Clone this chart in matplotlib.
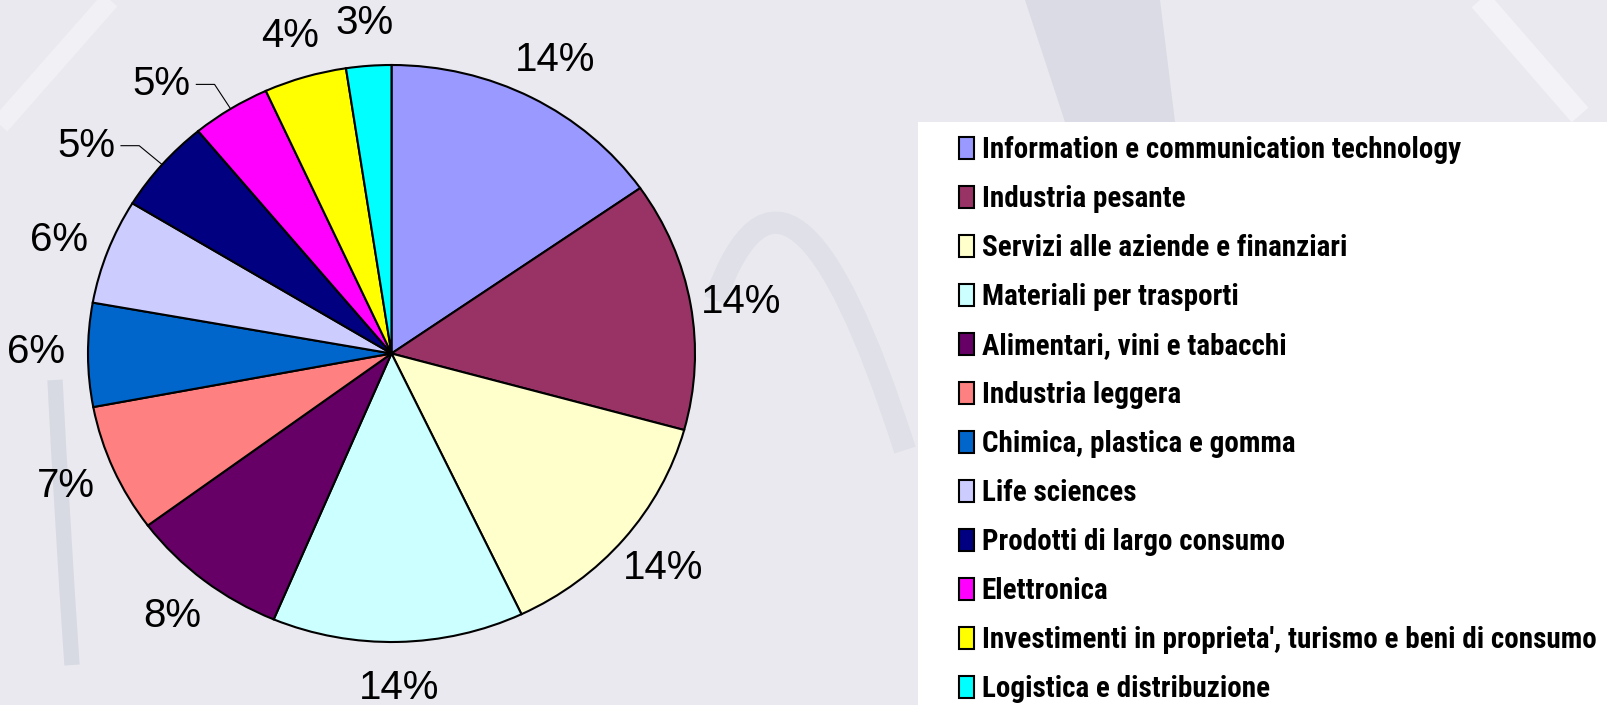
import numpy as np
import matplotlib.pyplot as plt
from matplotlib.patches import Rectangle, PathPatch, Polygon
from matplotlib.path import Path

sectors = ["Information e communication technology", "Industria pesante",
           "Servizi alle aziende e finanziari", "Materiali per trasporti",
           "Alimentari, vini e tabacchi", "Industria leggera",
           "Chimica, plastica e gomma", "Life sciences",
           "Prodotti di largo consumo", "Elettronica",
           "Investimenti in proprieta', turismo e beni di consumo",
           "Logistica e distribuzione"]
shares = [15.3, 14.0, 13.7, 13.4, 8.5, 7.2, 5.8, 5.9, 5.3, 4.2, 4.4, 2.4]
pct_labels = ["14%", "14%", "14%", "14%", "8%", "7%", "6%", "6%", "5%", "5%", "4%", "3%"]
colors = ["#9999FF", "#993366", "#FFFFCC", "#CCFFFF", "#660066", "#FF8080",
          "#0066CC", "#CCCCFF", "#000080", "#FF00FF", "#FFFF00", "#00FFFF"]
leader = [8, 9]

W, H = 1607, 705
fig = plt.figure(figsize=(W/100, H/100), dpi=100)
fig.patch.set_facecolor("#E9E9EF")

# faint watermark strokes of the slide background (pixel coords)
bg = fig.add_axes([0, 0, 1, 1])
bg.set_xlim(0, W)
bg.set_ylim(H, 0)
bg.axis("off")
bg.add_patch(PathPatch(Path([(715, 300), (790, 90), (905, 450)],
                            [Path.MOVETO, Path.CURVE3, Path.CURVE3]),
                       fill=False, edgecolor="#DFE0E8", lw=16))
bg.add_patch(PathPatch(Path([(55, 380), (62, 520), (72, 665)],
                            [Path.MOVETO, Path.CURVE3, Path.CURVE3]),
                       fill=False, edgecolor="#D7DAE2", lw=11))
bg.add_patch(Polygon([(1025, 0), (1160, 0), (1175, 122), (1065, 122)],
                     closed=True, facecolor="#DADBE4", edgecolor="none"))
bg.plot([0, 110], [125, 0], color="#F1F1F5", lw=14, solid_capstyle="butt")
bg.plot([1480, 1580], [0, 115], color="#F3F3F7", lw=16, solid_capstyle="butt")

# pie centre / radii in pixels
cx, cy, rx, ry = 391.5, H - 353.5, 303.5, 288.5
xl, yl = 1.3, 1.23
ax = fig.add_axes([(cx - xl*rx)/W, (cy - yl*ry)/H, 2*xl*rx/W, 2*yl*ry/H])
ax.set_facecolor("none")

wedges, texts = ax.pie(shares, colors=colors, startangle=90, counterclock=False,
                       labels=pct_labels, labeldistance=1.17,
                       wedgeprops=dict(edgecolor="black", linewidth=1.5),
                       textprops=dict(fontsize=29, family="Liberation Sans"))
ax.set_aspect("auto")
ax.set_xlim(-xl, xl)
ax.set_ylim(-yl, yl)
ax.axis("off")

for i, (w, t) in enumerate(zip(wedges, texts)):
    t.set_ha("center")
    t.set_va("center")
    if i in leader:
        mid = np.deg2rad((w.theta1 + w.theta2) / 2)
        x0, y0 = np.cos(mid), np.sin(mid)
        x1, y1 = 1.1*x0, 1.1*y0
        x2 = x1 - 0.06
        ax.plot([x0, x1, x2], [y0, y1, y1], color="black", lw=0.8)
        t.set_position((x2 - 0.02, y1))
        t.set_ha("right")
    else:
        tx, ty = t.get_position()
        if ty > 0:
            t.set_position((tx, ty - 6/ry))
        else:
            t.set_position((tx, ty + 3/ry))

# white legend panel
fig.patches.append(Rectangle((918/W, 0), 1, 1 - 122/H, transform=fig.transFigure,
                             facecolor="white", edgecolor="none", zorder=0))

leg = fig.legend(wedges, sectors, loc="upper left", bbox_to_anchor=(959/W, 1 - 136/H),
                 frameon=False, handlelength=0.51, handleheight=0.75, handletextpad=0.27,
                 labelspacing=0.72, borderpad=0, borderaxespad=0,
                 prop=dict(family="Roboto Condensed", weight="bold", size=21))
for h in leg.legend_handles:
    h.set_linewidth(1.5)

fig.savefig("out.png", dpi=100, facecolor=fig.get_facecolor())
